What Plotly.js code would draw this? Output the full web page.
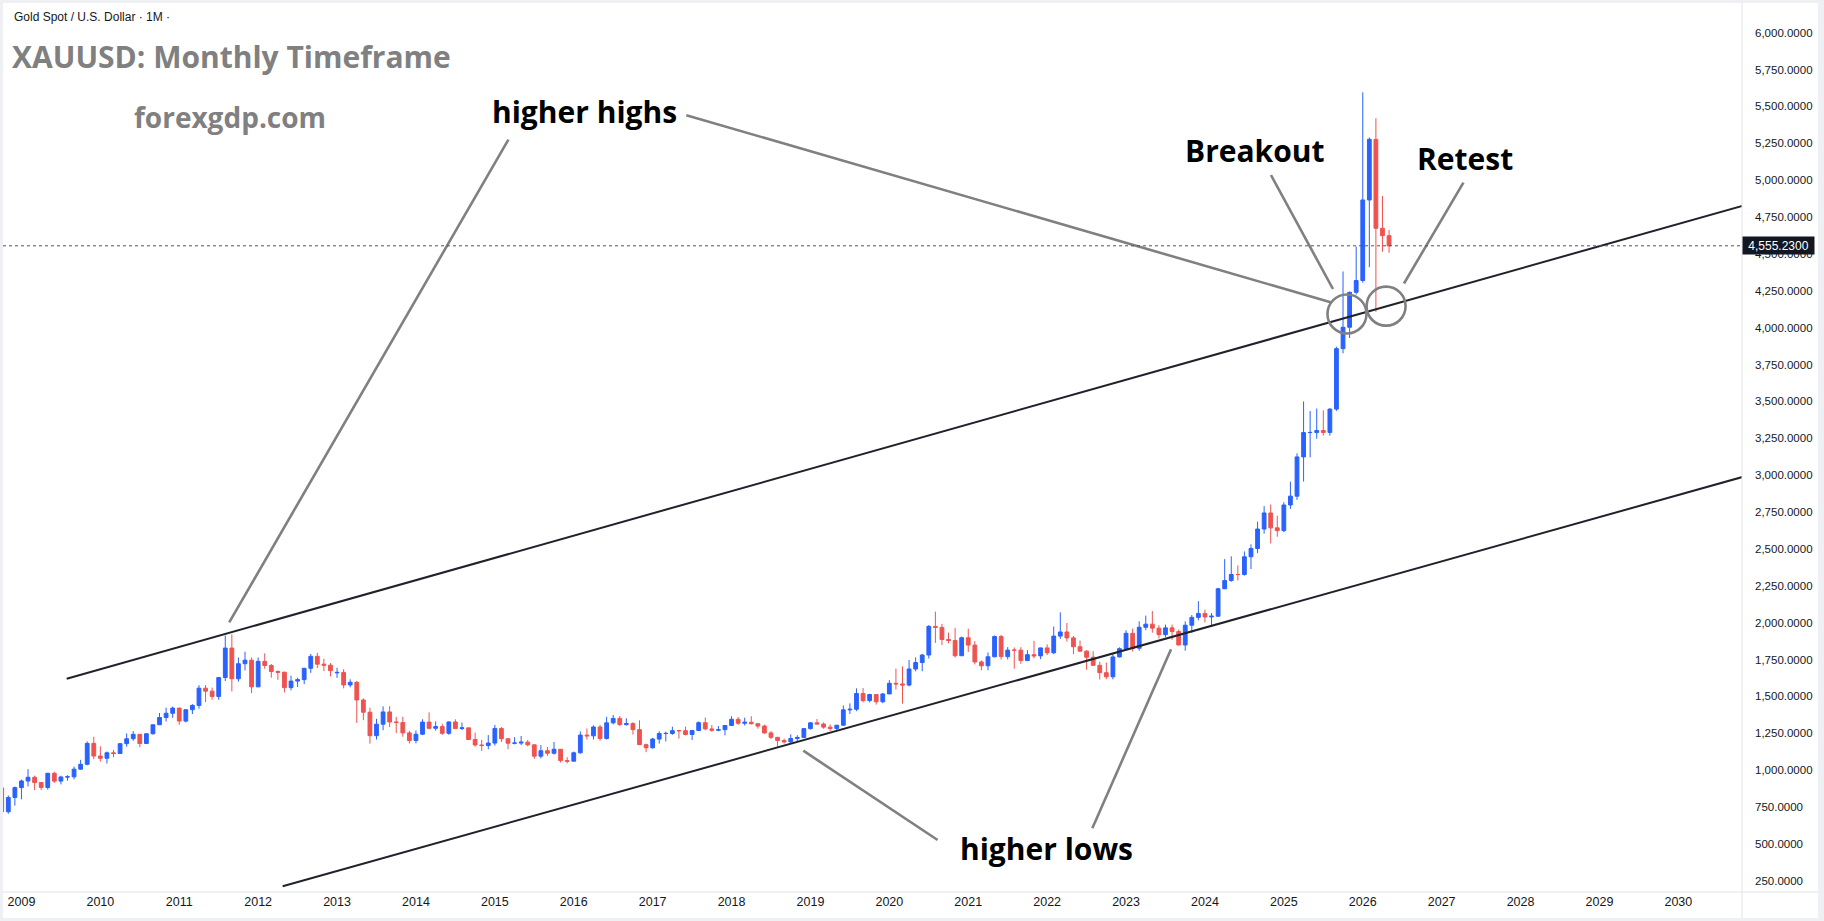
<!DOCTYPE html>
<html>
<head>
<meta charset="utf-8">
<script src="https://cdn.plot.ly/plotly-3.0.1.min.js"></script>
<style>
  html, body { margin: 0; padding: 0; background: #eef0f3; }
  #chart { position: absolute; left: 3px; top: 3px; width: 1815px; height: 915px; }
</style>
</head>
<body>
<div id="chart"></div>
<script>
// XAUUSD monthly candles, Oct 2008 .. May 2026 (one value per month)
const FIRST_MONTH = -3; // months relative to Jan 2009

const open = [
  880, 718, 815,                                                          // 2008 Q4
  882, 927, 952, 916, 883, 979, 926, 954, 955, 1007, 1040, 1182,          // 2009
  1096, 1081, 1118, 1113, 1180, 1213, 1243, 1181, 1247, 1308, 1357, 1386, // 2010
  1421, 1333, 1410, 1439, 1556, 1536, 1500, 1628, 1828, 1620, 1722, 1746, // 2011
  1565, 1738, 1710, 1669, 1664, 1560, 1604, 1614, 1691, 1772, 1719, 1712, // 2012
  1660, 1663, 1578, 1596, 1476, 1393, 1234, 1312, 1395, 1327, 1323, 1253, // 2013
  1201, 1244, 1326, 1284, 1296, 1250, 1327, 1282, 1287, 1208, 1171, 1167, // 2014
  1184, 1283, 1213, 1183, 1184, 1190, 1172, 1095, 1132, 1115, 1142, 1065, // 2015
  1061, 1118, 1238, 1233, 1293, 1215, 1321, 1351, 1309, 1316, 1275, 1173, // 2016
  1152, 1211, 1249, 1249, 1268, 1268, 1242, 1269, 1322, 1280, 1271, 1275, // 2017
  1303, 1345, 1318, 1325, 1315, 1299, 1253, 1223, 1201, 1192, 1215, 1222, // 2018
  1282, 1321, 1313, 1292, 1283, 1305, 1409, 1413, 1520, 1472, 1513, 1464, // 2019
  1517, 1589, 1585, 1577, 1686, 1730, 1781, 1975, 1968, 1886, 1879, 1776, // 2020
  1898, 1848, 1734, 1708, 1769, 1906, 1770, 1814, 1814, 1743, 1783, 1775, // 2021
  1829, 1796, 1909, 1937, 1897, 1837, 1807, 1766, 1711, 1661, 1633, 1768, // 2022
  1824, 1928, 1827, 1969, 1990, 1963, 1919, 1965, 1940, 1849, 1983, 2036, // 2023
  2063, 2039, 2044, 2230, 2286, 2327, 2327, 2447, 2503, 2635, 2744, 2643, // 2024
  2624, 2798, 2858, 3124, 3289, 3289, 3303, 3290, 3448, 3858, 4003, 4240, // 2025
  4320, 4866, 5277, 4674, 4624                                            // 2026
];

const high = [
  934, 829, 889,
  937, 1007, 963, 917, 982, 990, 963, 966, 1025, 1070, 1195, 1227,
  1162, 1127, 1138, 1181, 1249, 1265, 1245, 1250, 1310, 1388, 1424, 1431,
  1424, 1411, 1448, 1576, 1577, 1560, 1632, 1913, 1921, 1764, 1803, 1764,
  1764, 1792, 1720, 1677, 1668, 1641, 1627, 1692, 1788, 1796, 1755, 1726,
  1694, 1685, 1616, 1605, 1487, 1424, 1348, 1433, 1434, 1361, 1362, 1267,
  1270, 1345, 1392, 1331, 1315, 1332, 1345, 1323, 1288, 1255, 1206, 1238,
  1307, 1292, 1219, 1224, 1232, 1205, 1175, 1170, 1157, 1191, 1143, 1088,
  1126, 1263, 1283, 1304, 1306, 1362, 1375, 1367, 1352, 1326, 1338, 1180,
  1219, 1264, 1261, 1295, 1272, 1296, 1271, 1331, 1357, 1306, 1299, 1307,
  1366, 1361, 1356, 1366, 1318, 1309, 1265, 1224, 1214, 1243, 1237, 1284,
  1326, 1347, 1324, 1310, 1306, 1439, 1453, 1555, 1557, 1518, 1516, 1524,
  1611, 1689, 1704, 1747, 1765, 1789, 1984, 2075, 1992, 1933, 1965, 1906,
  1959, 1875, 1745, 1798, 1913, 1917, 1834, 1832, 1834, 1814, 1877, 1831,
  1853, 1974, 2070, 1998, 1910, 1879, 1814, 1807, 1735, 1730, 1786, 1833,
  1949, 1960, 2009, 2048, 2079, 1983, 1987, 1987, 1953, 2009, 2052, 2146,
  2088, 2065, 2236, 2431, 2450, 2388, 2483, 2531, 2685, 2790, 2801, 2726,
  2817, 2956, 3148, 3500, 3435, 3452, 3439, 3454, 3871, 4381, 4245, 4550,
  5596, 5290, 5420, 4893, 4662
];

const low = [
  681, 705, 760,
  802, 890, 865, 865, 868, 913, 904, 929, 938, 1003, 1033, 1075,
  1058, 1045, 1088, 1110, 1159, 1199, 1156, 1177, 1241, 1308, 1330, 1355,
  1308, 1324, 1381, 1417, 1462, 1478, 1478, 1605, 1534, 1601, 1676, 1523,
  1564, 1688, 1627, 1613, 1527, 1541, 1564, 1583, 1660, 1692, 1672, 1635,
  1626, 1555, 1562, 1321, 1339, 1180, 1208, 1271, 1292, 1251, 1227, 1181,
  1182, 1238, 1277, 1268, 1240, 1240, 1280, 1273, 1205, 1160, 1131, 1142,
  1167, 1191, 1142, 1175, 1170, 1162, 1077, 1080, 1098, 1106, 1052, 1046,
  1060, 1112, 1208, 1208, 1200, 1207, 1310, 1300, 1302, 1241, 1171, 1122,
  1146, 1180, 1195, 1240, 1214, 1236, 1205, 1267, 1271, 1260, 1264, 1236,
  1302, 1307, 1303, 1310, 1282, 1246, 1211, 1160, 1180, 1183, 1196, 1221,
  1276, 1311, 1281, 1266, 1267, 1301, 1381, 1400, 1459, 1459, 1445, 1454,
  1517, 1547, 1451, 1568, 1670, 1671, 1757, 1863, 1848, 1860, 1764, 1775,
  1802, 1717, 1677, 1677, 1765, 1750, 1751, 1688, 1721, 1741, 1759, 1753,
  1780, 1786, 1890, 1872, 1787, 1805, 1681, 1709, 1615, 1617, 1616, 1765,
  1823, 1805, 1810, 1949, 1932, 1893, 1902, 1884, 1846, 1810, 1931, 2016,
  2002, 1984, 2039, 2228, 2277, 2286, 2319, 2364, 2472, 2604, 2537, 2583,
  2614, 2772, 2833, 2957, 3121, 3247, 3268, 3268, 3436, 3826, 3930, 4225,
  4305, 4410, 4108, 4515, 4508
];

const close = [
  718, 815, 882,
  927, 952, 916, 883, 979, 926, 954, 955, 1007, 1040, 1182, 1096,
  1081, 1118, 1113, 1180, 1213, 1243, 1181, 1247, 1308, 1357, 1386, 1421,
  1333, 1410, 1439, 1556, 1536, 1500, 1628, 1828, 1620, 1722, 1746, 1565,
  1738, 1710, 1669, 1664, 1560, 1604, 1614, 1691, 1772, 1719, 1712, 1675,
  1663, 1578, 1596, 1476, 1393, 1234, 1312, 1395, 1327, 1323, 1253, 1201,
  1244, 1326, 1284, 1296, 1250, 1327, 1282, 1287, 1208, 1171, 1167, 1184,
  1283, 1213, 1183, 1184, 1190, 1172, 1095, 1132, 1115, 1142, 1065, 1061,
  1118, 1238, 1233, 1293, 1215, 1321, 1351, 1309, 1316, 1275, 1173, 1152,
  1211, 1249, 1249.5, 1268, 1267.5, 1242, 1269, 1322, 1280, 1271, 1275, 1303,
  1345, 1318, 1325, 1315, 1299, 1253, 1223, 1201, 1192, 1215, 1222, 1282,
  1321, 1313, 1292, 1283, 1305, 1409, 1413, 1520, 1472, 1513, 1464, 1517,
  1589, 1585, 1577, 1686, 1730, 1781, 1975, 1968, 1886, 1879, 1776, 1898,
  1848, 1734, 1708, 1769, 1906, 1770, 1814, 1813.5, 1743, 1783, 1775, 1829,
  1796, 1909, 1937, 1897, 1837, 1807, 1766, 1711, 1661, 1633, 1768, 1824,
  1928, 1827, 1969, 1990, 1963, 1919, 1965, 1940, 1849, 1983, 2036, 2063,
  2039, 2044, 2230, 2286, 2327, 2326.5, 2447, 2503, 2635, 2744, 2643, 2624,
  2798, 2858, 3124, 3289, 3290, 3303, 3290, 3448, 3858, 4003, 4240, 4320,
  4866, 5277, 4674, 4624, 4555.23
];

// Axis ticks
const yearTickMonths = [0, 12, 24, 36, 48, 60, 72, 84, 96, 108, 120, 132, 144, 156, 168, 180, 192, 204, 216, 228, 240, 252];
const yearLabels = ['2009', '2010', '2011', '2012', '2013', '2014', '2015', '2016', '2017', '2018', '2019',
                    '2020', '2021', '2022', '2023', '2024', '2025', '2026', '2027', '2028', '2029', '2030'];
const priceTicks = [250, 500, 750, 1000, 1250, 1500, 1750, 2000, 2250, 2500, 2750, 3000,
                    3250, 3500, 3750, 4000, 4250, 4500, 4750, 5000, 5250, 5500, 5750, 6000];

const monthIndex = open.map((_, i) => FIRST_MONTH + i);
const lastPrice = close[close.length - 1];
const lastPriceText = lastPrice.toLocaleString('en-US', { minimumFractionDigits: 4, maximumFractionDigits: 4 });

const BLUE = '#2962ff';
const RED = '#ef5350';
const TREND = '#1f222a';
const POINTER = '#808080';
const AXIS_FONT = { family: 'Liberation Sans, Arial, sans-serif', size: 11.5, color: '#131722' };
const X_AXIS_FONT = { family: 'Liberation Sans, Arial, sans-serif', size: 12.5, color: '#131722' };
const LABEL_FONT = { family: 'Open Sans, sans-serif', size: 30, color: '#000000', weight: 700 };

const candles = {
  type: 'candlestick',
  x: monthIndex,
  open: open, high: high, low: low, close: close,
  increasing: { line: { color: BLUE, width: 1 }, fillcolor: BLUE },
  decreasing: { line: { color: RED, width: 1 }, fillcolor: RED },
  whiskerwidth: 0,
  hoverinfo: 'skip',
  showlegend: false
};

function seg(x0, y0, x1, y1, color, width) {
  return { type: 'line', xref: 'x', yref: 'y', x0: x0, y0: y0, x1: x1, y1: y1,
           line: { color: color, width: width }, layer: 'above' };
}
function ring(xc, yc, r) {
  return { type: 'circle', xref: 'x', yref: 'y', xsizemode: 'pixel', ysizemode: 'pixel',
           xanchor: xc, yanchor: yc, x0: -r, x1: r, y0: -r, y1: r,
           line: { color: POINTER, width: 2.6 }, fillcolor: 'rgba(0,0,0,0)', layer: 'above' };
}

const shapes = [
  // channel lines
  seg(6.88, 1620.3, 270.5, 4936.3, TREND, 2),
  seg(39.73, 213.6, 270.5, 3097.0, TREND, 2),
  // pointers
  seg(74.06, 5275.3, 31.6, 2002.0, POINTER, 2.6),
  seg(101.12, 5440.7, 199.25, 4170.8, POINTER, 2.6),
  seg(190.04, 5035.3, 199.47, 4262.4, POINTER, 2.6),
  seg(219.31, 4983.7, 210.27, 4299.7, POINTER, 2.6),
  seg(139.34, 526.8, 118.91, 1132.2, POINTER, 2.6),
  seg(162.87, 606.1, 174.84, 1819.7, POINTER, 2.6),
  ring(201.6, 4093, 19.5),
  ring(207.55, 4146, 19.5),
  // last price line
  { type: 'line', xref: 'paper', yref: 'y', x0: 0, x1: 1, y0: lastPrice, y1: lastPrice,
    line: { color: '#50535e', width: 1, dash: 'dot' }, layer: 'above' },
  // pane separators
  { type: 'line', xref: 'paper', yref: 'paper', x0: 1, x1: 1, y0: -26 / 889, y1: 1,
    line: { color: '#e0e3eb', width: 1 } },
  { type: 'line', xref: 'paper', yref: 'paper', x0: 0, x1: 1 + 76 / 1739, y0: 0, y1: 0,
    line: { color: '#e0e3eb', width: 1 } }
];

const annotations = [
  { xref: 'paper', yref: 'paper', x: 0.005, y: 0.9839, xanchor: 'left', yanchor: 'middle',
    text: 'Gold Spot / U.S. Dollar · 1M ·', showarrow: false,
    font: { family: 'Liberation Sans, Arial, sans-serif', size: 12, color: '#131722' } },
  { xref: 'paper', yref: 'paper', x: 0.004, y: 0.9393, xanchor: 'left', yanchor: 'middle',
    text: 'XAUUSD: Monthly Timeframe', showarrow: false,
    font: { family: 'Open Sans, sans-serif', size: 30, color: '#808080', weight: 700 } },
  { xref: 'paper', yref: 'paper', x: 0.1308, y: 0.872, xanchor: 'center', yanchor: 'middle',
    text: 'forexgdp.com', showarrow: false,
    font: { family: 'Open Sans, sans-serif', size: 28, color: '#808080', weight: 700 } },
  { xref: 'x', yref: 'y', x: 85.56, y: 5469, text: 'higher highs', showarrow: false, font: LABEL_FONT },
  { xref: 'x', yref: 'y', x: 187.55, y: 5201, text: 'Breakout', showarrow: false, font: LABEL_FONT },
  { xref: 'x', yref: 'y', x: 219.49, y: 5149, text: 'Retest', showarrow: false, font: LABEL_FONT },
  { xref: 'x', yref: 'y', x: 155.89, y: 472, text: 'higher lows', showarrow: false, font: LABEL_FONT },
  // last price tag on the price scale
  { xref: 'paper', yref: 'y', x: 1, y: lastPrice, xanchor: 'left', yanchor: 'middle',
    text: lastPriceText, showarrow: false, bgcolor: '#131722', borderpad: 2, width: 67, height: 13,
    font: { family: 'Liberation Sans, Arial, sans-serif', size: 12, color: '#ffffff' } }
];

const layout = {
  width: 1815, height: 915,
  margin: { l: 0, r: 76, t: 0, b: 26, pad: 0 },
  paper_bgcolor: '#ffffff', plot_bgcolor: '#ffffff',
  showlegend: false,
  dragmode: false,
  boxgap: 0.18,
  xaxis: {
    range: [-2.806, 261.68], rangeslider: { visible: false },
    tickmode: 'array', tickvals: yearTickMonths, ticktext: yearLabels,
    showgrid: false, zeroline: false, showline: false, ticks: '',
    tickfont: X_AXIS_FONT, ticklabelstandoff: 0, fixedrange: true
  },
  yaxis: {
    side: 'right', range: [174.2, 6201.4],
    tickmode: 'array', tickvals: priceTicks, tickformat: ',.4f',
    showgrid: false, zeroline: false, showline: false, ticks: '',
    tickfont: AXIS_FONT, ticklabelstandoff: 12, fixedrange: true
  },
  shapes: shapes,
  annotations: annotations
};

Plotly.newPlot('chart', [candles], layout, { displayModeBar: false, staticPlot: true });
</script>
</body>
</html>
